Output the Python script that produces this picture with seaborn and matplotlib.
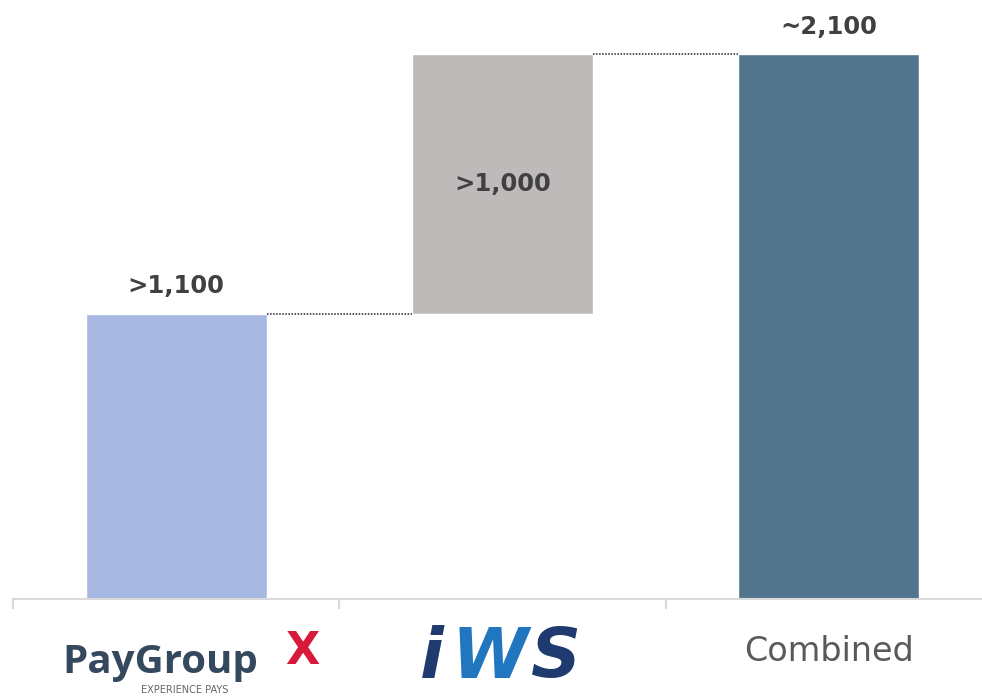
import pandas as pd
import seaborn as sns
import matplotlib.pyplot as plt

# Waterfall data
categories = ['PayGroup', 'IWS', 'Combined']
values = [1100, 1000, 2100]
bases = [0, 1100, 0]
labels = ['>1,100', '>1,000', '~2,100']
colors = ['#A7B9E0', '#BEBAB9', '#52758E']

df = pd.DataFrame({'cat': categories, 'top': [b + v for b, v in zip(bases, values)]})

sns.set_style('white')
fig = plt.figure(figsize=(9.82, 6.98), dpi=100)
ax = fig.add_axes([13 / 982, 99 / 698, 979 / 982, 599 / 698])

sns.barplot(data=df, x='cat', y='top', hue='cat', palette=colors, width=0.555,
            legend=False, ax=ax, saturation=1)

# shift bars to start at their base
for p, b, v in zip(ax.patches, bases, values):
    p.set_y(b)
    p.set_height(v)

ax.set_xlim(-0.5, 2.5)
ax.set_ylim(0, 2310)

# connectors
hw = 0.555 / 2
ax.plot([0 + hw, 1 - hw], [bases[1], bases[1]], ls=(0, (1, 1)), color='#222222', lw=1.1)
ax.plot([1 + hw, 2 - hw], [bases[1] + values[1]] * 2, ls=(0, (1, 1)), color='#222222', lw=1.1)

# value labels
ax.text(0, values[0] + 60, labels[0], ha='center', va='bottom', fontsize=17.5,
        fontweight='bold', color='#404040')
ax.text(1, bases[1] + values[1] / 2, labels[1], ha='center', va='center', fontsize=17.5,
        fontweight='bold', color='#404040')
ax.text(2, values[2] + 60, labels[2], ha='center', va='bottom', fontsize=17.5,
        fontweight='bold', color='#404040')

# axes styling
for s in ['top', 'right', 'left']:
    ax.spines[s].set_visible(False)
ax.spines['bottom'].set_color('#D9D9D9')
ax.spines['bottom'].set_linewidth(1.5)
ax.set_yticks([])
ax.set_xticks([-0.5, 0.5, 1.5, 2.5])
ax.set_xticklabels([])
ax.tick_params(axis='x', which='major', direction='out', length=7, width=1.5,
               color='#D9D9D9', bottom=True)
ax.set_xticks([0, 1, 2], minor=True)
ax.set_xticklabels(['', '', 'Combined'], minor=True)
ax.tick_params(axis='x', which='minor', length=0, pad=26, labelsize=24,
               labelcolor='#595959')
ax.set_xlabel('')
ax.set_ylabel('')

# logo-style category labels
fig.text(160 / 982, 1 - 662 / 698, 'PayGroup', ha='center', va='center',
         fontsize=29, fontweight='bold', color='#34495E', family='Open Sans')
fig.text(302 / 982, 1 - 652 / 698, 'X', ha='center', va='center',
         fontsize=32, fontweight='bold', color='#D71A3A', family='DejaVu Sans')
fig.text(185 / 982, 1 - 690 / 698, 'EXPERIENCE PAYS', ha='center', va='center',
         fontsize=7, color='#666666')
fig.text(432 / 982, 1 - 658 / 698, 'i', ha='center', va='center', fontsize=50,
         fontweight='bold', style='italic', color='#1F3A6E')
fig.text(490 / 982, 1 - 658 / 698, 'W', ha='center', va='center', fontsize=50,
         fontweight='bold', style='italic', color='#2176C0')
fig.text(556 / 982, 1 - 658 / 698, 'S', ha='center', va='center', fontsize=50,
         fontweight='bold', style='italic', color='#1F3A6E')

fig.savefig('out.png', dpi=100)
